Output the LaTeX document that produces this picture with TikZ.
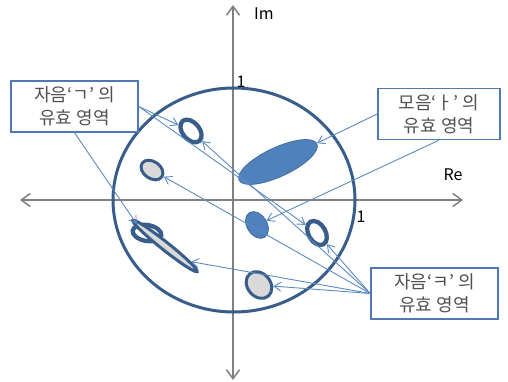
\documentclass[tikz,border=0pt]{standalone}
\usepackage{fontspec}
\newfontfamily\kofont{Noto Sans CJK KR}
\usetikzlibrary{arrows.meta, shapes.geometric}

\definecolor{ringblue}{RGB}{56,93,138}
\definecolor{spotblue}{RGB}{79,129,189}
\definecolor{lineblue}{RGB}{92,138,195}
\definecolor{boxblue}{RGB}{79,120,180}
\definecolor{spotgray}{RGB}{217,217,217}
\definecolor{axisgray}{RGB}{128,128,128}
\definecolor{textgray}{RGB}{80,80,80}

\begin{document}
\begin{tikzpicture}[x=1pt, y=1pt, font=\kofont\fontsize{16}{23}\selectfont,
    axis/.style={draw=axisgray, line width=1.5pt, {Straight Barb[length=9pt,width=13pt]}-{Straight Barb[length=9pt,width=13pt]}},
    note/.style={draw=boxblue, line width=1.5pt, fill=white, text=textgray, align=center, minimum height=51pt, inner sep=0pt, font=\kofont\fontsize{18}{23}\selectfont},
    conn/.style={draw=lineblue, line width=0.9pt, -{Straight Barb[length=7pt,width=9pt]}},
    hollow/.style={ellipse, draw=ringblue, line width=4.3pt, inner sep=0pt},
    grayspot/.style={ellipse, draw=ringblue, line width=3pt, fill=spotgray, inner sep=0pt},
    bluespot/.style={ellipse, draw=spotblue!85!black, line width=0.8pt, fill=spotblue, inner sep=0pt}]
    \useasboundingbox (-233,-182) rectangle (275,200);

    % axes and unit circle
    \draw[axis] (-213,0) -- (230,0);
    \draw[axis] (0,-180) -- (0,195);
    \draw[ringblue, line width=3pt] (1,0) ellipse [x radius=121, y radius=112];

    \node (im) at (31,186) {Im};
    \node (re) at (220,25) {Re};
    \node (oney) at (8,118) {1};
    \node (onex) at (128,-17) {1};

    % regions
    \node[hollow, rotate=-50, minimum width=26pt, minimum height=17pt] (e1) at (-42,69) {};
    \node[grayspot, rotate=-35, minimum width=24pt, minimum height=17pt] (e2) at (-81,30) {};
    \node[bluespot, rotate=25, minimum width=86pt, minimum height=29pt] (e3) at (45,38) {};
    \node[bluespot, rotate=-58, minimum width=29pt, minimum height=20pt] (e4) at (24,-25) {};
    \node[hollow, rotate=-60, minimum width=26pt, minimum height=17pt] (e5) at (84,-33) {};
    \node[grayspot, rotate=-50, minimum width=29pt, minimum height=23pt] (e6) at (26,-85) {};
    \node[hollow, rotate=-10, minimum width=29pt, minimum height=16pt] (e7) at (-86,-33) {};
    \node[grayspot, rotate=-38.5, minimum width=82pt, minimum height=8pt] (e8) at (-68,-46) {};

    % callouts
    \node[note, minimum width=127pt] (kiyeok) at (-158.5,93.5) {자음‘ㄱ’ 의\\유효 영역};
    \node[note, minimum width=122pt] (vowel) at (206,86) {모음‘ㅏ’ 의\\유효 영역};
    \node[note, minimum width=127pt] (kieuk) at (201.5,-93.5) {자음‘ㅋ’ 의\\유효 영역};

    \draw[conn] (kiyeok.east) -- (e1);
    \draw[conn] (kiyeok.east) -- (e5);
    \draw[conn] (kiyeok.south) -- (e7.north west);
    \draw[conn] (vowel.west) -- (e3);
    \draw[conn] (vowel.south) -- (e4);
    \foreach \t in {e1, e2, e5, e6, e8.north east}
        \draw[conn] (kieuk.west) -- (\t);
\end{tikzpicture}
\end{document}
